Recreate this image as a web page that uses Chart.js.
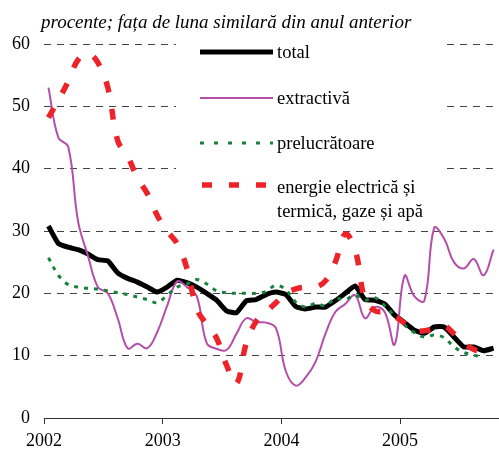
<!DOCTYPE html>
<html>
<head>
<meta charset="utf-8">
<script src="https://cdn.jsdelivr.net/npm/chart.js@4"></script>
<style>
  html, body { margin: 0; padding: 0; background: #fff; }
  #wrap { width: 499px; height: 453px; }
</style>
</head>
<body>
<div id="wrap"><canvas id="grafic" width="499" height="453"></canvas></div>
<script>
// ---------------- date: luna ian 2002 - oct 2005 ----------------
const startYear = 2002;
const yearTicks = [2002, 2003, 2004, 2005];

const total = [30.8, 28.0, 27.4, 27.0, 26.3, 25.4, 25.2, 23.3, 22.4, 21.8, 21.0, 20.2,
               21.0, 22.1, 21.7, 21.0, 20.0, 18.9, 17.2, 16.9, 18.8, 19.0, 19.8, 20.2,
               19.8, 17.9, 17.5, 17.8, 17.8, 18.8, 20.0, 21.2, 19.0, 18.9, 18.3, 16.5,
               15.3, 14.1, 13.6, 14.6, 14.6, 13.0, 11.4, 11.4, 10.8, 11.2];

const extractiva = [53.0, 45.0, 43.5, 31.5, 26.0, 21.0, 20.0, 16.0, 11.2, 11.9, 11.2, 13.8,
                    18.0, 21.9, 21.0, 19.5, 12.0, 11.1, 10.9, 13.5, 16.0, 15.4, 15.3, 14.4,
                    7.5, 5.2, 6.5, 9.0, 13.5, 17.0, 18.3, 19.7, 16.0, 17.8, 17.0, 11.8,
                    22.8, 19.5, 18.8, 30.5, 28.8, 25.0, 24.0, 25.5, 22.9, 27.0];

const prelucratoare = [25.7, 22.9, 21.4, 21.0, 20.8, 20.7, 20.4, 20.1, 19.8, 19.4, 19.0, 18.5,
                       19.7, 21.0, 21.5, 22.2, 21.5, 20.4, 20.1, 20.0, 20.0, 20.0, 20.3, 21.3,
                       20.6, 18.6, 17.8, 18.4, 18.0, 19.2, 19.0, 19.7, 18.9, 19.3, 18.0, 16.4,
                       14.9, 13.7, 13.0, 13.3, 12.9, 11.4, 10.5, 10.1, 9.6, null];

const energie = [48.2, 51.0, 54.0, 57.5, 58.5, 57.0, 53.0, 44.5, 42.0, 38.5, 36.0, 32.5,
                 30.0, 28.0, 24.0, 17.5, 15.0, 12.8, 8.5, 5.5, 12.0, 15.5, 17.0, 18.5,
                 20.0, 20.7, 21.0, 21.0, 22.0, 25.0, 29.5, 27.0, 19.0, 17.2, 17.0, 16.3,
                 15.2, 14.0, 14.0, 14.3, 14.8, 13.5, 12.0, 11.0, 10.5, null];

const seriesNames = ["total", "extractivă", "prelucrătoare", ["energie electrică și", "termică, gaze și apă"]];
const subtitlu = "procente; fața de luna similară din anul anterior";

function puncte(arr) {
    return arr.map((v, i) => ({ x: startYear + (i + 0.45) / 12, y: v }));
}

const FONT = "'Liberation Serif', 'Times New Roman', serif";

const stiluri = [
    { color: "#000000", width: 5, dash: [] },
    { color: "#b54ea8", width: 2, dash: [] },
    { color: "#17803d", width: 3, dash: [4, 10] },
    { color: "#ee2229", width: 5.5, dash: [10, 17] }
];

// legenda si titlul desenate manual
const legendaPlugin = {
    id: "legenda",
    beforeDatasetsDraw(chart) {
        const ctx = chart.ctx;
        ctx.save();
        ctx.fillStyle = "#ffffff";
        ctx.fillRect(176, 30, 268, 195);
        ctx.restore();
    },
    afterDraw(chart) {
        const ctx = chart.ctx;
        ctx.save();
        ctx.fillStyle = "#000";
        ctx.font = "italic 19px " + FONT;
        ctx.textBaseline = "alphabetic";
        ctx.textAlign = "left";
        ctx.fillText(subtitlu, 41, 28);

        const ys = [52, 98, 143, 185];
        ctx.font = "18.5px " + FONT;
        ctx.textBaseline = "middle";
        seriesNames.forEach((name, i) => {
            const s = stiluri[i];
            ctx.beginPath();
            ctx.strokeStyle = s.color;
            ctx.lineWidth = s.width;
            ctx.setLineDash(s.dash);
            ctx.moveTo(i === 3 ? 202 : 200, ys[i]);
            ctx.lineTo(i === 3 ? 266 : 273, ys[i]);
            ctx.stroke();
            ctx.setLineDash([]);
            if (Array.isArray(name)) {
                ctx.fillText(name[0], 277, ys[i] + 3);
                ctx.fillText(name[1], 277, ys[i] + 27);
            } else {
                ctx.fillText(name, 277, ys[i] + 1);
            }
        });
        ctx.restore();
    }
};

new Chart(document.getElementById("grafic"), {
    type: "line",
    data: {
        datasets: [
            {
                label: "energie",
                data: puncte(energie),
                borderColor: stiluri[3].color,
                borderWidth: stiluri[3].width,
                borderDash: [11, 17],
                tension: 0.4
            },
            {
                label: "prelucratoare",
                data: puncte(prelucratoare),
                borderColor: stiluri[2].color,
                borderWidth: 3,
                borderDash: [4, 6],
                tension: 0.35
            },
            {
                label: "extractiva",
                data: puncte(extractiva),
                borderColor: stiluri[1].color,
                borderWidth: 2,
                tension: 0.4
            },
            {
                label: "total",
                data: puncte(total),
                borderColor: stiluri[0].color,
                borderWidth: 5,
                tension: 0.15
            }
        ]
    },
    options: {
        responsive: false,
        animation: false,
        elements: { point: { radius: 0 }, line: { borderCapStyle: "butt", borderJoinStyle: "round" } },
        layout: { padding: { top: 44, right: 0, left: 0, bottom: 0 } },
        plugins: {
            legend: { display: false },
            title: { display: false },
            tooltip: { enabled: false }
        },
        scales: {
            x: {
                type: "linear",
                min: 2002,
                max: 2005 + 10 / 12,
                afterBuildTicks: (scale) => { scale.ticks = yearTicks.map(v => ({ value: v })); },
                afterFit: (scale) => { scale.height = 35; },
                grid: { drawOnChartArea: false, drawTicks: true, tickLength: 6, color: "#333", lineWidth: 1 },
                border: { display: true, color: "#333", width: 1 },
                ticks: {
                    color: "#000",
                    font: { family: FONT, size: 18 },
                    padding: 6,
                    maxRotation: 0,
                    callback: (v) => String(v)
                }
            },
            y: {
                min: 0,
                max: 60,
                afterFit: (scale) => { scale.width = 44; },
                grid: {
                    drawTicks: false,
                    color: (c) => c.tick && c.tick.value === 0 ? "rgba(0,0,0,0)" : "#444",
                    lineWidth: 1
                },
                border: { display: false, dash: [7, 6] },
                ticks: {
                    stepSize: 10,
                    color: "#000",
                    font: { family: FONT, size: 18 },
                    padding: 14
                }
            }
        }
    },
    plugins: [legendaPlugin]
});
</script>
</body>
</html>
